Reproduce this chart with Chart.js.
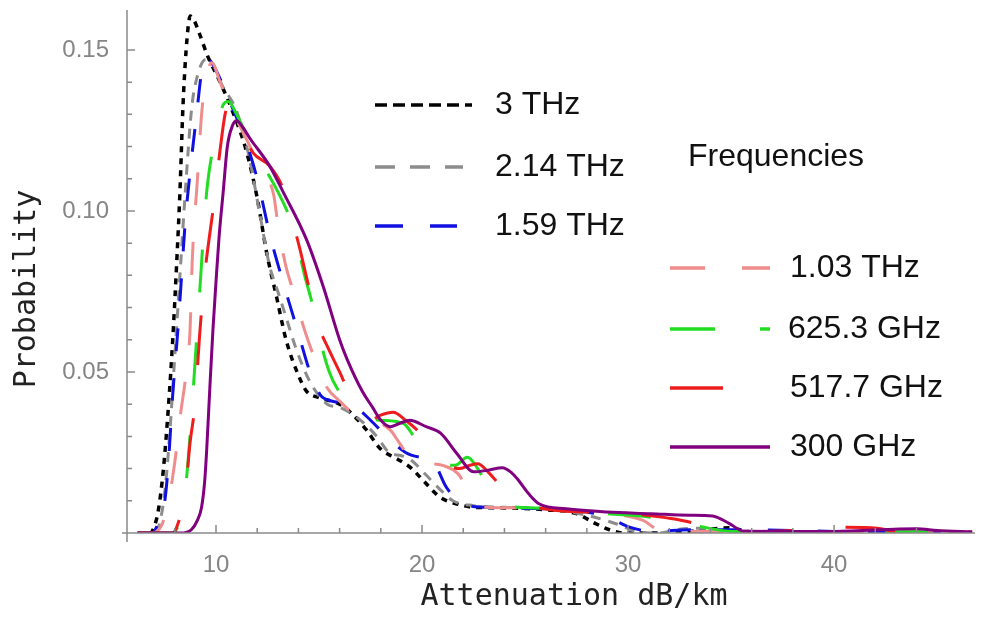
<!DOCTYPE html>
<html>
<head>
<meta charset="utf-8">
<script src="https://cdn.jsdelivr.net/npm/chart.js@4/dist/chart.umd.min.js"></script>
<style>
  html, body { margin: 0; padding: 0; background: #fff; }
  #wrap { width: 981px; height: 617px; position: relative; }
</style>
</head>
<body>
<div id="wrap"><canvas id="c"></canvas></div>
<script>
// series names, in the order of the legends
let seriesNames = ['3 THz', '2.14 THz', '1.59 THz', '1.03 THz', '625.3 GHz', '517.7 GHz', '300 GHz'];

// attenuation (dB/km) and probability
let x3THz = [6.2, 6.8, 7.0, 7.2, 7.45, 7.7, 7.9, 8.1, 8.25, 8.4, 8.6, 8.75, 8.95, 9.2, 9.6, 10.2, 10.8, 11.5, 12.0, 12.46, 12.95, 13.4, 14.0, 14.4, 15.0, 16.0, 16.6, 17.3, 18.0, 18.8, 19.5, 20.1, 20.9, 21.7, 22.5, 24, 26, 27.5, 28.4, 29.1, 29.8, 31, 33, 34.9, 35.8, 36.5];
let y3THz = [0, 0, 0.002, 0.007, 0.02, 0.04, 0.06, 0.085, 0.106, 0.133, 0.154, 0.1605, 0.159, 0.155, 0.148, 0.14, 0.131, 0.118, 0.104, 0.087, 0.073, 0.06, 0.049, 0.044, 0.042, 0.04, 0.037, 0.032, 0.026, 0.023, 0.02, 0.016, 0.011, 0.009, 0.008, 0.0078, 0.0072, 0.006, 0.003, 0.001, 0, 0, 0.0005, 0.0016, 0.0005, 0];

let x214THz = [6.2, 7.0, 7.3, 7.55, 7.8, 8.0, 8.25, 8.5, 8.82, 9.1, 9.5, 9.8, 10.3, 11.0, 11.6, 12.1, 12.6, 13.0, 13.4, 13.9, 14.56, 15.4, 16.0, 16.6, 17.2, 17.8, 18.4, 19.0, 19.4, 20.2, 20.8, 21.5, 22.5, 24, 26, 28, 29.45, 30.5, 31.5, 32.5, 33.5, 34.5, 36];
let y214THz = [0, 0, 0.004, 0.015, 0.035, 0.055, 0.08, 0.105, 0.132, 0.142, 0.147, 0.146, 0.139, 0.131, 0.117, 0.1, 0.083, 0.075, 0.067, 0.057, 0.047, 0.04, 0.039, 0.037, 0.034, 0.03, 0.025, 0.024, 0.023, 0.018, 0.014, 0.01, 0.0085, 0.008, 0.0075, 0.0055, 0.0028, 0.0003, 0, 0.0012, 0.0015, 0.0008, 0];

let x159THz = [6.2, 6.9, 7.2, 7.45, 7.67, 7.9, 8.16, 8.33, 8.5, 8.74, 9.06, 9.3, 9.55, 9.8, 10.2, 10.8, 11.4, 12.0, 12.6, 13.25, 14.0, 14.56, 15.05, 15.6, 16.5, 17.0, 17.5, 18.45, 19.2, 19.9, 20.5, 21.2, 22.0, 23, 26, 28, 29, 30, 31.2, 33, 36, 40, 46.7];
let y159THz = [0, 0, 0.003, 0.007, 0.02, 0.043, 0.064, 0.08, 0.096, 0.112, 0.13, 0.143, 0.1475, 0.146, 0.141, 0.132, 0.1225, 0.11, 0.093, 0.078, 0.062, 0.05, 0.043, 0.041, 0.04, 0.038, 0.035, 0.029, 0.025, 0.0235, 0.0225, 0.014, 0.009, 0.008, 0.0075, 0.0065, 0.005, 0.002, 0.0005, 0.001, 0.001, 0.0005, 0.0003];

let x103THz = [6.2, 6.9, 7.4, 7.7, 8.0, 8.3, 8.5, 8.74, 8.85, 9.1, 9.3, 9.55, 9.8, 10.2, 10.5, 11.5, 12.2, 12.8, 13.0, 13.35, 13.75, 14.3, 14.8, 15.4, 16.0, 16.5, 17.3, 18.45, 18.9, 19.6, 20.3, 21.0, 21.8, 22.3, 23, 25, 27, 29.1, 30.7, 31.5, 33, 38, 46.7];
let y103THz = [0, 0, 0.003, 0.01, 0.022, 0.038, 0.047, 0.063, 0.085, 0.11, 0.13, 0.142, 0.146, 0.14, 0.135, 0.122, 0.113, 0.105, 0.096, 0.084, 0.075, 0.063, 0.054, 0.045, 0.041, 0.038, 0.036, 0.032, 0.028, 0.022, 0.0215, 0.021, 0.018, 0.012, 0.008, 0.0078, 0.007, 0.006, 0.004, 0.001, 0.0005, 0.0005, 0.0003];

let x6253GHz = [6.2, 7.9, 8.2, 8.45, 8.64, 8.9, 9.22, 9.47, 9.6, 10.03, 10.35, 10.6, 11.0, 11.6, 12.3, 13.0, 13.6, 13.9, 14.3, 14.66, 15.05, 15.5, 15.87, 16.5, 17.1, 18.0, 19.1, 19.6, 20.05, 20.8, 21.6, 22.2, 22.7, 23.3, 23.8, 25.5, 27, 29, 31, 33.5, 35, 37, 46.7];
let y6253GHz = [0, 0, 0.003, 0.01, 0.022, 0.045, 0.076, 0.1, 0.109, 0.125, 0.133, 0.134, 0.13, 0.122, 0.114, 0.106, 0.0975, 0.091, 0.08, 0.0715, 0.06, 0.05, 0.045, 0.04, 0.036, 0.035, 0.034, 0.03, 0.0256, 0.022, 0.021, 0.0235, 0.02, 0.013, 0.009, 0.0078, 0.0072, 0.006, 0.005, 0.002, 0.0005, 0.0005, 0.0003];

let x5177GHz = [6.2, 7.9, 8.16, 8.5, 8.74, 8.98, 9.2, 9.45, 9.7, 9.85, 10.2, 10.44, 10.6, 11.0, 11.8, 12.6, 13.25, 14.0, 14.56, 15.0, 15.4, 16.0, 16.36, 17.0, 17.5, 17.96, 18.6, 19.2, 19.9, 20.6, 21.3, 21.8, 22.3, 22.7, 23.2, 23.8, 24.5, 25.5, 26.5, 28, 30, 31.9, 33.2, 34, 36, 39.2, 40.5, 42.1, 43, 46.7];
let y5177GHz = [0, 0, 0.003, 0.012, 0.028, 0.04, 0.061, 0.08, 0.093, 0.1, 0.119, 0.13, 0.1325, 0.128, 0.118, 0.114, 0.107, 0.09, 0.075, 0.064, 0.058, 0.05, 0.045, 0.038, 0.035, 0.0365, 0.0375, 0.035, 0.031, 0.025, 0.021, 0.02, 0.021, 0.0215, 0.019, 0.0147, 0.01, 0.008, 0.007, 0.0065, 0.006, 0.0047, 0.003, 0.0008, 0.0005, 0.0012, 0.0018, 0.0015, 0.0005, 0.0003];

let x300GHz = [6.2, 8.3, 8.8, 9.1, 9.3, 9.45, 9.55, 9.7, 9.85, 10.0, 10.15, 10.35, 10.55, 10.8, 11.0, 11.3, 11.65, 12.6, 13.25, 14.4, 15.2, 16.0, 16.36, 17.1, 17.6, 18.0, 18.45, 18.9, 19.4, 20.2, 20.9, 21.7, 22.5, 23.2, 23.9, 24.3, 24.6, 25.2, 25.7, 27.0, 29, 31.1, 33, 34.1, 34.9, 35.6, 37, 40, 44, 45, 46.7];
let y300GHz = [0, 0, 0.001, 0.004, 0.008, 0.016, 0.026, 0.045, 0.063, 0.078, 0.092, 0.106, 0.12, 0.1265, 0.128, 0.126, 0.1225, 0.114, 0.106, 0.091, 0.0766, 0.06, 0.054, 0.044, 0.039, 0.035, 0.033, 0.034, 0.035, 0.033, 0.031, 0.0246, 0.019, 0.0195, 0.0203, 0.019, 0.017, 0.012, 0.009, 0.0075, 0.0065, 0.006, 0.0055, 0.0053, 0.003, 0.0006, 0.0005, 0.0005, 0.0013, 0.0008, 0.0003];

let seriesX = [x3THz, x214THz, x159THz, x103THz, x6253GHz, x5177GHz, x300GHz];
let seriesY = [y3THz, y214THz, y159THz, y103THz, y6253GHz, y5177GHz, y300GHz];

// styles
let lineColors = ['#000000', '#8c8c8c', '#1010e0', '#f08c8c', '#22dd22', '#ee1c1c', '#800080'];
let plotDashes = [[6, 6], [10, 8], [23, 27], [33, 37], [43, 50], [50, 53], []];
let legendDashes = [[12, 6], [20, 15], [28, 27], [35, 37], [45, 45], [53, 60], []];

let tickFont = { family: 'Liberation Sans, Arial, sans-serif', size: 24 };

function buildDatasets(){
    return seriesNames.map((name, i) => ({
        label: name,
        data: seriesX[i].map((x, j) => ({ x: x, y: seriesY[i][j] })),
        borderColor: lineColors[i],
        borderWidth: i == 0 ? 3.5 : 3,
        borderDash: plotDashes[i],
        pointRadius: 0,
        fill: false,
        cubicInterpolationMode: 'monotone',
        order: seriesNames.length - 1 - i
    }));
}

function isMultiple(v, step){
    let r = v / step;
    return Math.abs(r - Math.round(r)) < 1e-6;
}

// axes, ticks, titles and the two legends, Mathematica style
const decor = {
    id: 'decor',
    afterDatasetsDraw(chart){
        const ctx = chart.ctx;
        const area = chart.chartArea;
        const xs = chart.scales.x, ys = chart.scales.y;
        const y0 = ys.getPixelForValue(0);
        ctx.save();
        ctx.strokeStyle = '#8a8a8a';
        ctx.lineWidth = 1.5;
        ctx.beginPath();
        ctx.moveTo(area.left, area.top);
        ctx.lineTo(area.left, y0 + 9);
        ctx.moveTo(area.left - 5, y0);
        ctx.lineTo(area.right, y0);
        ys.ticks.forEach(t => {
            if(t.value <= 0 || !isMultiple(t.value, 0.01)) return;
            let p = ys.getPixelForValue(t.value);
            ctx.moveTo(area.left, p);
            ctx.lineTo(area.left + (t.label ? 8 : 5), p);
        });
        xs.ticks.forEach(t => {
            if(!isMultiple(t.value, 2)) return;
            let p = xs.getPixelForValue(t.value);
            ctx.moveTo(p, y0);
            ctx.lineTo(p, y0 - (t.label ? 8 : 5));
        });
        ctx.stroke();

        // axis titles
        ctx.fillStyle = '#222';
        ctx.font = '30px "DejaVu Sans Mono", monospace';
        ctx.textAlign = 'center';
        ctx.textBaseline = 'middle';
        ctx.fillText('Attenuation dB/km', 574, 597);
        ctx.save();
        ctx.translate(27, 289);
        ctx.rotate(-Math.PI / 2);
        ctx.fillText('Probability', 0, 0);
        ctx.restore();

        // legends
        ctx.font = '32px "Liberation Sans", Arial, sans-serif';
        ctx.textAlign = 'left';
        ctx.fillStyle = '#111';
        ctx.fillText('Frequencies', 688, 157);
        let rows = [
            { x: 375, y: 105, len: 97, tx: 495 },
            { x: 375, y: 167, len: 88, tx: 495 },
            { x: 375, y: 226, len: 82, tx: 495 },
            { x: 670, y: 268, len: 100, tx: 790 },
            { x: 670, y: 329, len: 100, tx: 788 },
            { x: 670, y: 388, len: 53, tx: 790 },
            { x: 670, y: 447, len: 100, tx: 790 }
        ];
        rows.forEach((r, i) => {
            ctx.strokeStyle = lineColors[i];
            ctx.lineWidth = 3.5;
            ctx.setLineDash(legendDashes[i]);
            ctx.beginPath();
            ctx.moveTo(r.x, r.y);
            ctx.lineTo(r.x + r.len, r.y);
            ctx.stroke();
            ctx.setLineDash([]);
            ctx.fillText(seriesNames[i], r.tx, r.y);
        });
        ctx.restore();
    }
};

let chart = new Chart(document.getElementById('c'), {
    type: 'line',
    data: { datasets: buildDatasets() },
    options: {
        responsive: true,
        maintainAspectRatio: false,
        animation: false,
        layout: { padding: { top: 10, right: 6, left: 0, bottom: 0 } },
        plugins: { legend: { display: false }, tooltip: { enabled: false } },
        scales: {
            x: {
                type: 'linear',
                min: 5.68,
                max: 46.84,
                grid: { display: false },
                border: { display: false },
                ticks: {
                    stepSize: 2,
                    autoSkip: false,
                    maxRotation: 0,
                    padding: 10,
                    color: '#858585',
                    font: tickFont,
                    callback: v => (isMultiple(v, 10) ? String(Math.round(v)) : '')
                },
                afterFit: s => { s.height = 84; s.paddingLeft = 0; s.paddingRight = 0; }
            },
            y: {
                type: 'linear',
                min: 0,
                max: 0.1624,
                grid: { display: false },
                border: { display: false },
                ticks: {
                    stepSize: 0.01,
                    autoSkip: false,
                    padding: 10,
                    color: '#858585',
                    font: tickFont,
                    callback: v => (v > 0 && isMultiple(v, 0.05) ? v.toFixed(2) : '')
                },
                afterFit: s => { s.width = 127; s.paddingTop = 0; s.paddingBottom = 0; }
            }
        }
    },
    plugins: [decor]
});
</script>
</body>
</html>
